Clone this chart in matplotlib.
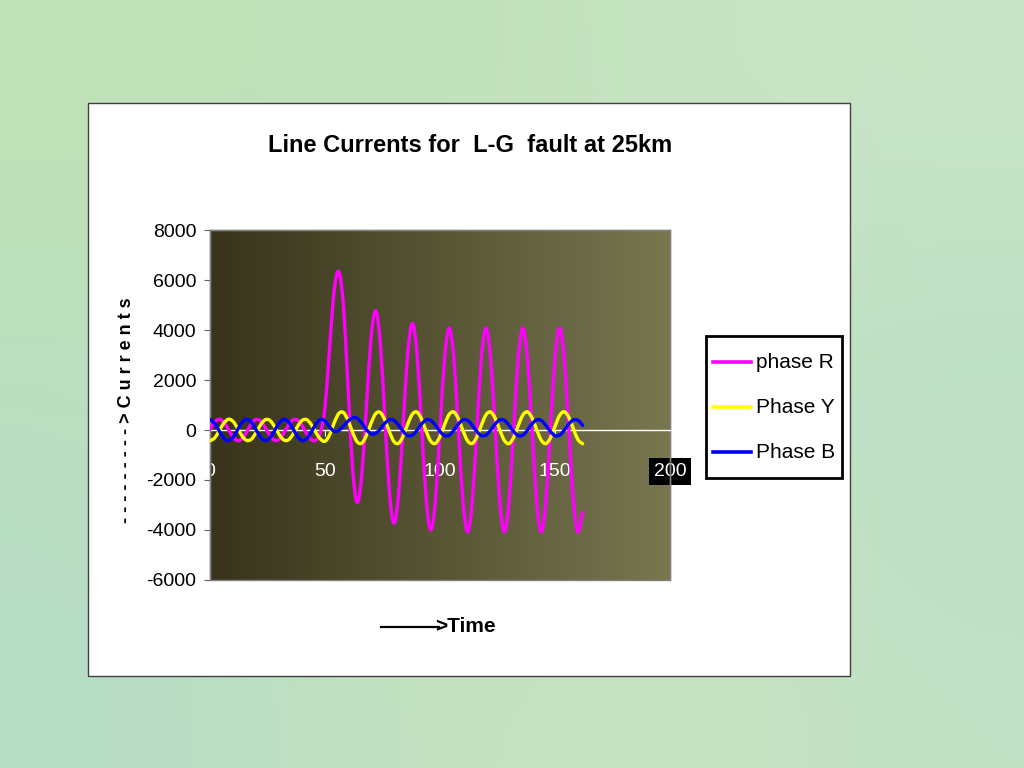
import numpy as np
import matplotlib
matplotlib.use("Agg")
import matplotlib.pyplot as plt
from matplotlib.path import Path
from matplotlib.patches import PathPatch, Rectangle
from matplotlib.lines import Line2D

plt.rcParams['font.family'] = ['Liberation Sans', 'DejaVu Sans']

# ---------------- data ----------------
time = list(range(0, 163, 2))

phase_r = [20, 310, 430, 310, 20, -280, -430, -340, -60, 250,
           420, 360, 100, -215, -410, -380, -140, 180, 400, 400,
           180, -140, -380, -410, -100, 900, 3300, 5600, 6330, 4980,
           1715, -1550, -2900, -1780, 935, 3650, 4770, 3525, 520, -2485,
           -3730, -2560, 270, 3100, 4270, 3060, 135, -2790, -4000, -2820,
           35, 2890, 4070, 2880, 0, -2880, -4070, -2880, 0, 2880,
           4070, 2880, 0, -2880, -4070, -2880, 0, 2880, 4070, 2880,
           0, -2880, -4070, -2880, 0, 2880, 4070, 2880, 0, -2880,
           -4070, -3300]

phase_y = [-430, -320, -30, 275, 430, 345, 70, -245, -420, -365,
           -110, 210, 410, 385, 150, -170, -395, -400, -185, 135,
           380, 415, 220, -95, -360, -450, -195, 290, 660, 700,
           385, -100, -475, -525, -215, 270, 650, 705, 405, -75,
           -465, -530, -240, 245, 635, 715, 430, -55, -450, -535,
           -260, 220, 625, 720, 450, -30, -435, -540, -280, 195,
           610, 720, 470, -5, -420, -545, -300, 170, 595, 725,
           490, 20, -405, -545, -320, 145, 580, 730, 510, 45,
           -390, -550]

phase_b = [425, 270, -40, -325, -430, -290, 10, 310, 430, 310,
           10, -290, -430, -325, -40, 270, 425, 340, 60, -250,
           -425, -355, -85, 230, 420, 360, 120, -50, -15, 150,
           355, 490, 465, 270, 15, -155, -135, 35, 265, 415,
           385, 190, -60, -225, -205, -10, 240, 405, 385, 190,
           -60, -225, -205, -10, 240, 405, 385, 190, -60, -225,
           -205, -10, 240, 405, 385, 190, -60, -225, -205, -10,
           240, 405, 385, 190, -60, -225, -205, -10, 240, 405,
           385, 190]

series_names = ['phase R', 'Phase Y', 'Phase B']
series_colors = ['#FF00FF', '#FFFF00', '#0000FF']
y_ticks = [-6000, -4000, -2000, 0, 2000, 4000, 6000, 8000]
x_ticks = [0, 50, 100, 150, 200]


def smooth_path(xs, ys):
    """Smoothed (Excel-like) line through the data points."""
    pts = np.column_stack([xs, ys]).astype(float)
    n = len(pts)
    verts = [pts[0]]
    codes = [Path.MOVETO]
    for i in range(n - 1):
        p0 = pts[i - 1] if i > 0 else pts[i]
        p1 = pts[i]
        p2 = pts[i + 1]
        p3 = pts[i + 2] if i + 2 < n else pts[i + 1]
        c1 = p1 + (p2 - p0) / 6.0
        c2 = p2 - (p3 - p1) / 6.0
        verts += [c1, c2, p2]
        codes += [Path.CURVE4] * 3
    return Path(verts, codes)


fig = plt.figure(figsize=(10.24, 7.68), dpi=100)

# ---------------- slide background ----------------
bg = fig.add_axes([0, 0, 1, 1], zorder=-2)
bg.set_axis_off()
bg_cols = np.array([
    [(192, 226, 182), (190, 224, 186), (198, 228, 192), (202, 230, 200)],
    [(185, 222, 192), (194, 226, 188), (198, 226, 190), (186, 222, 198)],
    [(182, 220, 198), (194, 225, 192), (202, 228, 194), (194, 225, 198)],
]) / 255.0
bg.imshow(bg_cols, aspect='auto', interpolation='bicubic', extent=[0, 1, 0, 1])
bg.set_xlim(0, 1)
bg.set_ylim(0, 1)

# ---------------- white chart area ----------------
fig.patches.append(Rectangle((0.0859, 0.1198), 0.7441, 0.7461,
                             transform=fig.transFigure, facecolor='white',
                             edgecolor='#404040', lw=1.0, zorder=-1))

# ---------------- plot area ----------------
ax = fig.add_axes([0.2051, 0.2448, 0.4492, 0.4557], zorder=1)
c_left = np.array([56, 51, 26]) / 255.0
c_right = np.array([120, 119, 80]) / 255.0
fr = np.linspace(0, 1, 256)[None, :, None]
grad = c_left * (1 - fr) + c_right * fr
ax.imshow(grad, aspect='auto', extent=[0, 200, -6000, 8000], zorder=0,
          interpolation='bilinear')

for ys, col in zip([phase_r, phase_y, phase_b], series_colors):
    ax.add_patch(PathPatch(smooth_path(time, ys), fill=False, edgecolor=col,
                           lw=2.4, capstyle='round', joinstyle='round', zorder=3))

ax.set_xlim(0, 200)
ax.set_ylim(-6000, 8000)

# spines / border
for s in ['left', 'top', 'right']:
    ax.spines[s].set_color('#808080')
    ax.spines[s].set_linewidth(1.0)
ax.spines['bottom'].set_position(('data', 0))
ax.spines['bottom'].set_color('white')
ax.spines['bottom'].set_linewidth(1.0)
ax.add_patch(Rectangle((0, 0), 1, 1, transform=ax.transAxes, fill=False,
                       edgecolor='#808080', lw=1.0, zorder=2, clip_on=False))

ax.set_yticks(y_ticks)
ax.set_yticklabels([str(v) for v in y_ticks])
ax.tick_params(axis='y', direction='out', length=4, color='#606060',
               labelsize=14, pad=6, labelcolor='black')
ax.set_xticks(x_ticks)
ax.set_xticklabels([str(v) for v in x_ticks])
ax.tick_params(axis='x', direction='out', length=4, color='white',
               labelsize=14, pad=20, labelcolor='white')
ax.xaxis.get_major_ticks()[-1].label1.set_bbox(
    dict(boxstyle='square,pad=0.25', facecolor='black', edgecolor='none'))

ax.set_ylabel('- - - - - - - - - > C u r r e n t s', fontsize=13,
              fontweight='bold')
ax.yaxis.set_label_coords(-0.163, 0.485)

# x label: a drawn arrow shaft followed by ">Time"
ax.add_line(Line2D([0.372, 0.497], [-0.134, -0.134], transform=ax.transAxes,
                   color='black', lw=1.6, clip_on=False))
ax.set_xlabel('>Time', fontsize=15, fontweight='bold')
ax.xaxis.label.set_ha('left')
ax.xaxis.set_label_coords(0.490, -0.106)

# title
fig.text(0.459, 0.811, 'Line Currents for  L-G  fault at 25km',
         ha='center', va='center', fontsize=17, fontweight='bold')

# legend
handles = [Line2D([], [], color=c, lw=2.6) for c in series_colors]
leg = ax.legend(handles, series_names, loc='upper left',
                bbox_to_anchor=(0.689, 0.5625), bbox_transform=fig.transFigure,
                frameon=True, fancybox=False, edgecolor='black', framealpha=1,
                fontsize=15, handlelength=1.85, handleheight=2.4,
                handletextpad=0.2, labelspacing=0.35, borderpad=0.35,
                borderaxespad=0)
leg.get_frame().set_linewidth(2.0)
# centre the sample lines on the text rows
for ln in leg.get_lines():
    yd = np.asarray(ln.get_ydata(), dtype=float)
    ln.set_ydata(yd - 4.3)

fig.savefig('out.png', dpi=100)
